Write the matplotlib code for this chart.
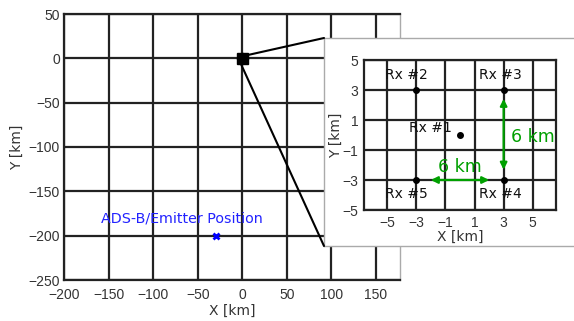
import numpy as np
import matplotlib.pyplot as plt
from matplotlib.patches import ConnectionPatch

plt.rcParams['font.family'] = ['DejaVu Sans']

# receiver positions [km]
rx_x = [0, -3, 3, 3, -3]
rx_y = [0, 3, 3, -3, -3]
rx_names = ['Rx #1', 'Rx #2', 'Rx #3', 'Rx #4', 'Rx #5']
# label positions for the receivers
lab_x = [-2.0, -3.7, 2.8, 2.8, -3.7]
lab_y = [0.5, 4.0, 4.0, -3.9, -3.9]

# emitter
emit_x = -30
emit_y = -200
emit_label = 'ADS-B/Emitter Position'

main_xticks = np.arange(-200, 151, 50)
main_yticks = np.arange(-250, 51, 50)
inset_ticks = [-5, -3, -1, 1, 3, 5]

green = '#00a000'
W, H = 574, 321

def tick_font(a):
    for lbl in a.get_xticklabels() + a.get_yticklabels():
        lbl.set_fontfamily('Liberation Sans')

fig = plt.figure(figsize=(W/100, H/100), dpi=100)

#### main map ####
ax = fig.add_axes([64/W, 1-280/H, 336/W, 266/H])
ax.set_xlim(-200, 177)
ax.set_ylim(-250, 50)
ax.set_xticks(main_xticks)
ax.set_yticks(main_yticks)
tick_font(ax)
ax.grid(True, color='#222222', linewidth=1.6)
ax.set_axisbelow(True)
ax.tick_params(length=0, labelsize=10, colors='#333333', pad=3)
ax.tick_params(axis='x', pad=6)
for s in ax.spines.values():
    s.set_color('#222222')
    s.set_linewidth(1.6)
ax.spines['right'].set_color('#aaaaaa')
ax.spines['right'].set_linewidth(1.0)
ax.set_xlabel('X [km]', fontsize=10, color='#333333', labelpad=1)
ax.set_ylabel('Y [km]', fontsize=10, color='#333333', labelpad=3)

ax.plot(rx_x, rx_y, 's', color='black', markersize=5, zorder=5)
ax.plot(emit_x, emit_y, 'x', color='blue', markersize=4, mew=2, zorder=5)
ax.text(-68, -181, emit_label, color='#2222ff', fontsize=10.3, ha='center', va='center')

#### inset frame ####
frame = fig.add_axes([324/W, 1-246/H, (W-324)/W + 0.02, (246-38)/H])
frame.set_xticks([])
frame.set_yticks([])
frame.set_facecolor('white')
for s in frame.spines.values():
    s.set_color('#aaaaaa')
    s.set_linewidth(1.0)

# connector lines from the cluster to the inset box
for xa, ya, yb in [(3, 3, 1), (-3, -3, 0)]:
    con = ConnectionPatch(xyA=(xa, ya), coordsA=ax.transData,
                          xyB=(0, yb), coordsB=frame.transAxes,
                          color='black', linewidth=1.5)
    fig.add_artist(con)

#### inset zoom ####
ins = fig.add_axes([364/W, 1-210/H, 192/W, 150/H])
ins.set_xlim(-6.6, 6.6)
ins.set_ylim(-5, 5)
ins.set_xticks(inset_ticks)
ins.set_yticks(inset_ticks)
tick_font(ins)
ins.grid(True, color='#222222', linewidth=1.6)
ins.set_axisbelow(True)
ins.tick_params(length=0, labelsize=10, colors='#333333', pad=4)
for s in ins.spines.values():
    s.set_color('#222222')
    s.set_linewidth(1.6)
ins.set_xlabel('X [km]', fontsize=10, color='#333333', labelpad=0)
ins.set_ylabel('Y [km]', fontsize=10, color='#333333', labelpad=0)

ins.plot(rx_x, rx_y, 'o', color='black', markersize=4, zorder=5)
for name, tx, ty in zip(rx_names, lab_x, lab_y):
    ins.text(tx, ty, name, fontsize=10, color='#111111', ha='center', va='center', zorder=6)

# 6 km spacing arrows
ins.annotate('', xy=(-2.2, -3), xytext=(2.2, -3),
             arrowprops=dict(arrowstyle='<|-|>', color=green, lw=1.6, mutation_scale=10))
ins.annotate('', xy=(3, 2.6), xytext=(3, -2.5),
             arrowprops=dict(arrowstyle='<|-|>', color=green, lw=1.6, mutation_scale=10))
ins.text(0, -2.1, '6 km', color=green, fontsize=12.5, ha='center', va='center')
ins.text(5.0, -0.1, '6 km', color=green, fontsize=12.5, ha='center', va='center')

fig.savefig('out.png', dpi=100)
